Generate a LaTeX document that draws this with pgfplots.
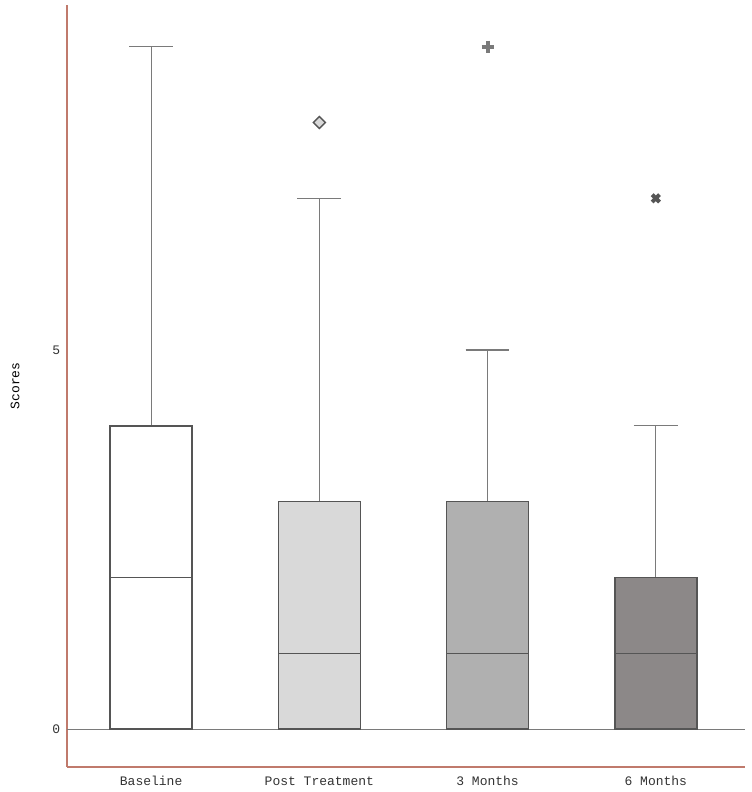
\documentclass[border=0pt]{standalone}
\usepackage{pgfplots}
\pgfplotsset{compat=1.18}
\usepgfplotslibrary{statistics}
\usepackage{fontspec}
\setmainfont{Liberation Mono}
\definecolor{axred}{HTML}{C07A6C}
\definecolor{boxedge}{HTML}{555555}
\definecolor{whisk}{HTML}{7A7A7A}
\definecolor{fillA}{HTML}{FFFFFF}
\definecolor{fillB}{HTML}{D9D9D9}
\definecolor{fillC}{HTML}{B0B0B0}
\definecolor{fillD}{HTML}{8C8888}
\definecolor{txt}{HTML}{333333}
\begin{document}
\fontsize{6.5}{8}\selectfont
\begin{tikzpicture}
\useasboundingbox (-33.5pt,-12.5pt) rectangle (342pt,383.5pt);
\begin{axis}[
  scale only axis,
  width=339pt, height=381pt,
  xmin=0.5, xmax=4.53,
  ymin=-0.5, ymax=9.55,
  axis x line*=bottom, axis y line*=left,
  axis line style={axred, line width=0.8pt},
  xtick={1,2,3,4},
  xticklabels={Baseline,Post Treatment,3 Months,6 Months},
  ytick={0,5},
  major tick length=0pt,
  tick label style={font=\fontsize{6.5}{8}\selectfont, text=txt},
  /pgf/number format/assume math mode=true,
  ylabel={Scores},
  ylabel style={font=\fontsize{6.8}{8}\selectfont, text=txt},
  every axis y label/.style={at={(ticklabel cs:0.5)}, rotate=90, anchor=center, yshift=16.5pt},
  yticklabel style={xshift=-1pt},
  xticklabel style={yshift=-2pt, text height=5pt, text depth=1.5pt},
  clip=false,
  boxplot/draw direction=y,
  boxplot/box extend=0.487,
  boxplot/whisker extend=0.26,
  boxplot/every whisker/.style={draw=whisk, line width=0.6pt},
  boxplot/every box/.style={draw=boxedge, line width=0.8pt},
  boxplot/every median/.style={draw=boxedge, line width=0.7pt},
]
\addplot[draw=whisk, line width=0.5pt, forget plot] coordinates {(0.5,0) (4.53,0)};
\addplot[boxplot prepared={draw position=1, lower whisker=0, lower quartile=0, median=2, upper quartile=4, upper whisker=9}, draw=boxedge, fill=fillA] coordinates {};
\addplot[boxplot prepared={draw position=2, lower whisker=0, lower quartile=0, median=1, upper quartile=3, upper whisker=7}, draw=boxedge, fill=fillB,
  mark=square*, mark size=2.1pt, mark options={rotate=45, fill=fillB, draw=boxedge, line width=0.7pt}] table[row sep=\\, y index=0] {8\\};
\addplot[boxplot prepared={draw position=3, lower whisker=0, lower quartile=0, median=1, upper quartile=3, upper whisker=5}, draw=boxedge, fill=fillC,
  mark=+, mark size=3pt, mark options={draw=whisk, line width=2pt}] table[row sep=\\, y index=0] {9\\};
\addplot[boxplot prepared={draw position=4, lower whisker=0, lower quartile=0, median=1, upper quartile=2, upper whisker=4}, draw=boxedge, fill=fillD,
  mark=x, mark size=2.6pt, mark options={draw=boxedge, line width=2pt}] table[row sep=\\, y index=0] {7\\};
\end{axis}
\end{tikzpicture}
\end{document}
